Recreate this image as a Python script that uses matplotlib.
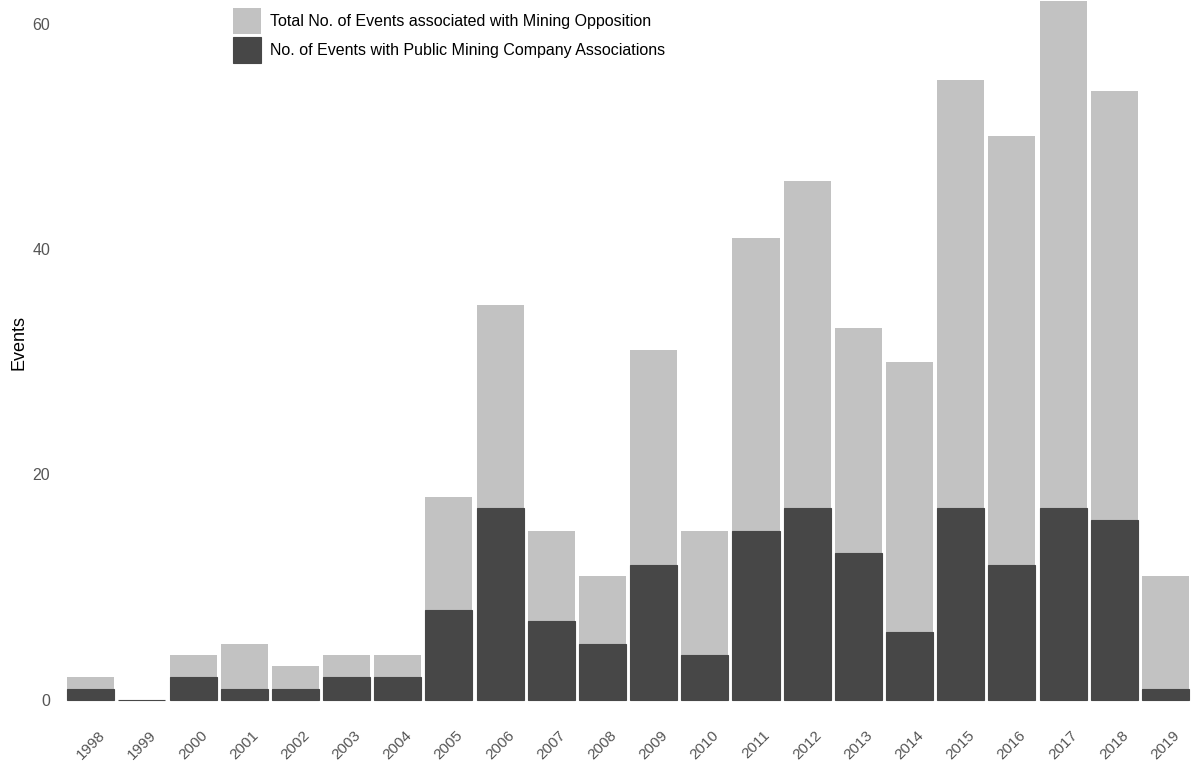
import numpy as np
import matplotlib
matplotlib.use("Agg")
import matplotlib.pyplot as plt

plt.rcParams['font.family'] = ['Liberation Sans', 'DejaVu Sans']

years = ['1998', '1999', '2000', '2001', '2002', '2003', '2004', '2005', '2006', '2007', '2008',
         '2009', '2010', '2011', '2012', '2013', '2014', '2015', '2016', '2017', '2018', '2019']
total_events = [2, 0, 4, 5, 3, 4, 4, 18, 35, 15, 11, 31, 15, 41, 46, 33, 30, 55, 50, 62, 54, 11]
public_events = [1, 0, 2, 1, 1, 2, 2, 8, 17, 7, 5, 12, 4, 15, 17, 13, 6, 17, 12, 17, 16, 1]

light = '#c2c2c2'
dark = '#474747'

fig = plt.figure(figsize=(11.91, 7.69), dpi=100)
ax = fig.add_axes([60 / 1191, 59 / 769, 1 - 60 / 1191, 1 - 59 / 769])

x = np.arange(len(years))
ax.bar(x, total_events, width=0.92, color=light, label='Total No. of Events associated with Mining Opposition')
ax.bar(x, public_events, width=0.92, color=dark, edgecolor=dark, linewidth=0.8,
       label='No. of Events with Public Mining Company Associations')

ax.set_xlim(-0.6, 21.5)
ax.set_ylim(-0.9, 62.1)
ax.set_yticks([0, 20, 40, 60])
ax.set_xticks(x)
ax.set_xticklabels(years, rotation=45, ha='center', va='top')
for s in ax.spines.values():
    s.set_visible(False)
ax.tick_params(axis='both', length=0, colors='#555555')
ax.tick_params(axis='x', pad=13, labelsize=11)
ax.tick_params(axis='y', pad=7, labelsize=11.5)

# y label placed by hand, like the reference
fig.text(19 / 1191, 1 - 342 / 769, 'Events', rotation=90, ha='center', va='center',
         fontsize=13, color='black')

fig.legend(loc='upper left', bbox_to_anchor=(227 / 1191, 1 - 2 / 769), frameon=False,
           fontsize=11.5, handlelength=1.75, handleheight=2.1, labelspacing=0.2,
           handletextpad=0.55, borderaxespad=0)

fig.savefig('out.png', dpi=100)
